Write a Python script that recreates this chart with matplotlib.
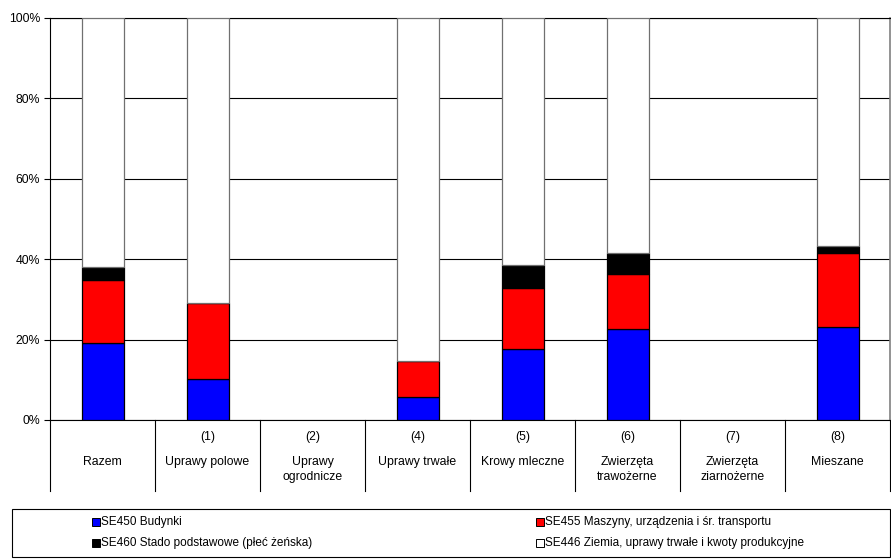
import matplotlib
matplotlib.use("Agg")
import matplotlib.pyplot as plt
from matplotlib.patches import Rectangle
import matplotlib.transforms as mtransforms

plt.rcParams['font.family'] = ['Liberation Sans', 'DejaVu Sans']

codes = ["", "(1)", "(2)", "(4)", "(5)", "(6)", "(7)", "(8)"]
names = ["Razem", "Uprawy polowe", "Uprawy\nogrodnicze", "Uprawy trwałe",
         "Krowy mleczne", "Zwierzęta\ntrawożerne", "Zwierzęta\nziarnożerne", "Mieszane"]

se450 = [19.1, 10.1, 0, 5.6, 17.6, 22.7, 0, 23.2]
se455 = [15.7, 19.1, 0, 9.2, 15.2, 13.6, 0, 18.4]
se460 = [3.2, 0, 0, 0, 5.8, 5.3, 0, 1.8]
se446 = [62.0, 70.8, 0, 85.2, 61.4, 58.4, 0, 56.6]

series_names = ["SE450 Budynki", "SE455 Maszyny, urządzenia i śr. transportu",
                "SE460 Stado podstawowe (płeć żeńska)", "SE446 Ziemia, uprawy trwałe i kwoty produkcyjne"]
yticks = [0, 20, 40, 60, 80, 100]

FS = 8.8
LFS = 8.5
W, H = 891, 559
fig = plt.figure(figsize=(W / 100, H / 100), dpi=100)
ax = fig.add_axes([50 / W, (H - 420) / H, 840 / W, 402 / H])

x = list(range(len(names)))
bw = 0.4
bottom = [0.0] * len(x)
series = [(se450, '#0000FF', 'black'), (se455, '#FF0000', 'black'),
          (se460, '#000000', 'black'), (se446, '#FFFFFF', '#707070')]
for vals, col, ec in series:
    bars = ax.bar(x, vals, bw, bottom=bottom, color=col, edgecolor=ec, linewidth=0.9, zorder=3)
    for b, v, bt in zip(bars, vals, bottom):
        if v == 0 and bt == 0:
            b.set_visible(False)
    bottom = [b + v for b, v in zip(bottom, vals)]

ax.set_xlim(-0.5, len(x) - 0.5)
ax.set_ylim(0, 100)
ax.set_yticks(yticks)
ax.set_yticklabels([f"{v}%" for v in yticks], fontsize=FS)
ax.tick_params(axis='y', length=4, width=0.8, color='black', pad=3)
ax.set_xticks([])
for yv in yticks:
    ax.axhline(yv, color='black', lw=0.8, zorder=1)
for s in ['left', 'bottom', 'top']:
    ax.spines[s].set_color('black')
    ax.spines[s].set_linewidth(0.8)
ax.spines['right'].set_color('#808080')
ax.spines['right'].set_linewidth(1.2)

# category table below axis
trans = mtransforms.blended_transform_factory(ax.transData, ax.transAxes)
sep_bottom = -71 / 402
for i in range(len(x) + 1):
    ax.plot([i - 0.5, i - 0.5], [0, sep_bottom], transform=trans, color='black',
            lw=0.8, clip_on=False)
for i, (c, n) in enumerate(zip(codes, names)):
    if c:
        ax.text(i, -17 / 402, c, transform=trans, ha='center', va='center', fontsize=FS)
    ax.text(i, -36 / 402, n, transform=trans, ha='center', va='top', fontsize=FS,
            linespacing=1.3)

# legend box
fig.patches.append(Rectangle((12 / W, (H - 557) / H), 878 / W, 48 / H,
                             transform=fig.transFigure, fill=False,
                             edgecolor='black', lw=0.8))
leg_items = [(0, 92, 522, '#0000FF'), (1, 536, 522, '#FF0000'),
             (2, 92, 543, '#000000'), (3, 536, 543, '#FFFFFF')]
for idx, px, py, col in leg_items:
    s = 8
    fig.patches.append(Rectangle((px / W, (H - py - s / 2) / H), s / W, s / H,
                                 transform=fig.transFigure, facecolor=col,
                                 edgecolor='black', lw=0.7))
    fig.text((px + s + 1) / W, (H - py) / H, series_names[idx], fontsize=LFS,
             va='center', ha='left')

fig.savefig("out.png", dpi=100)
